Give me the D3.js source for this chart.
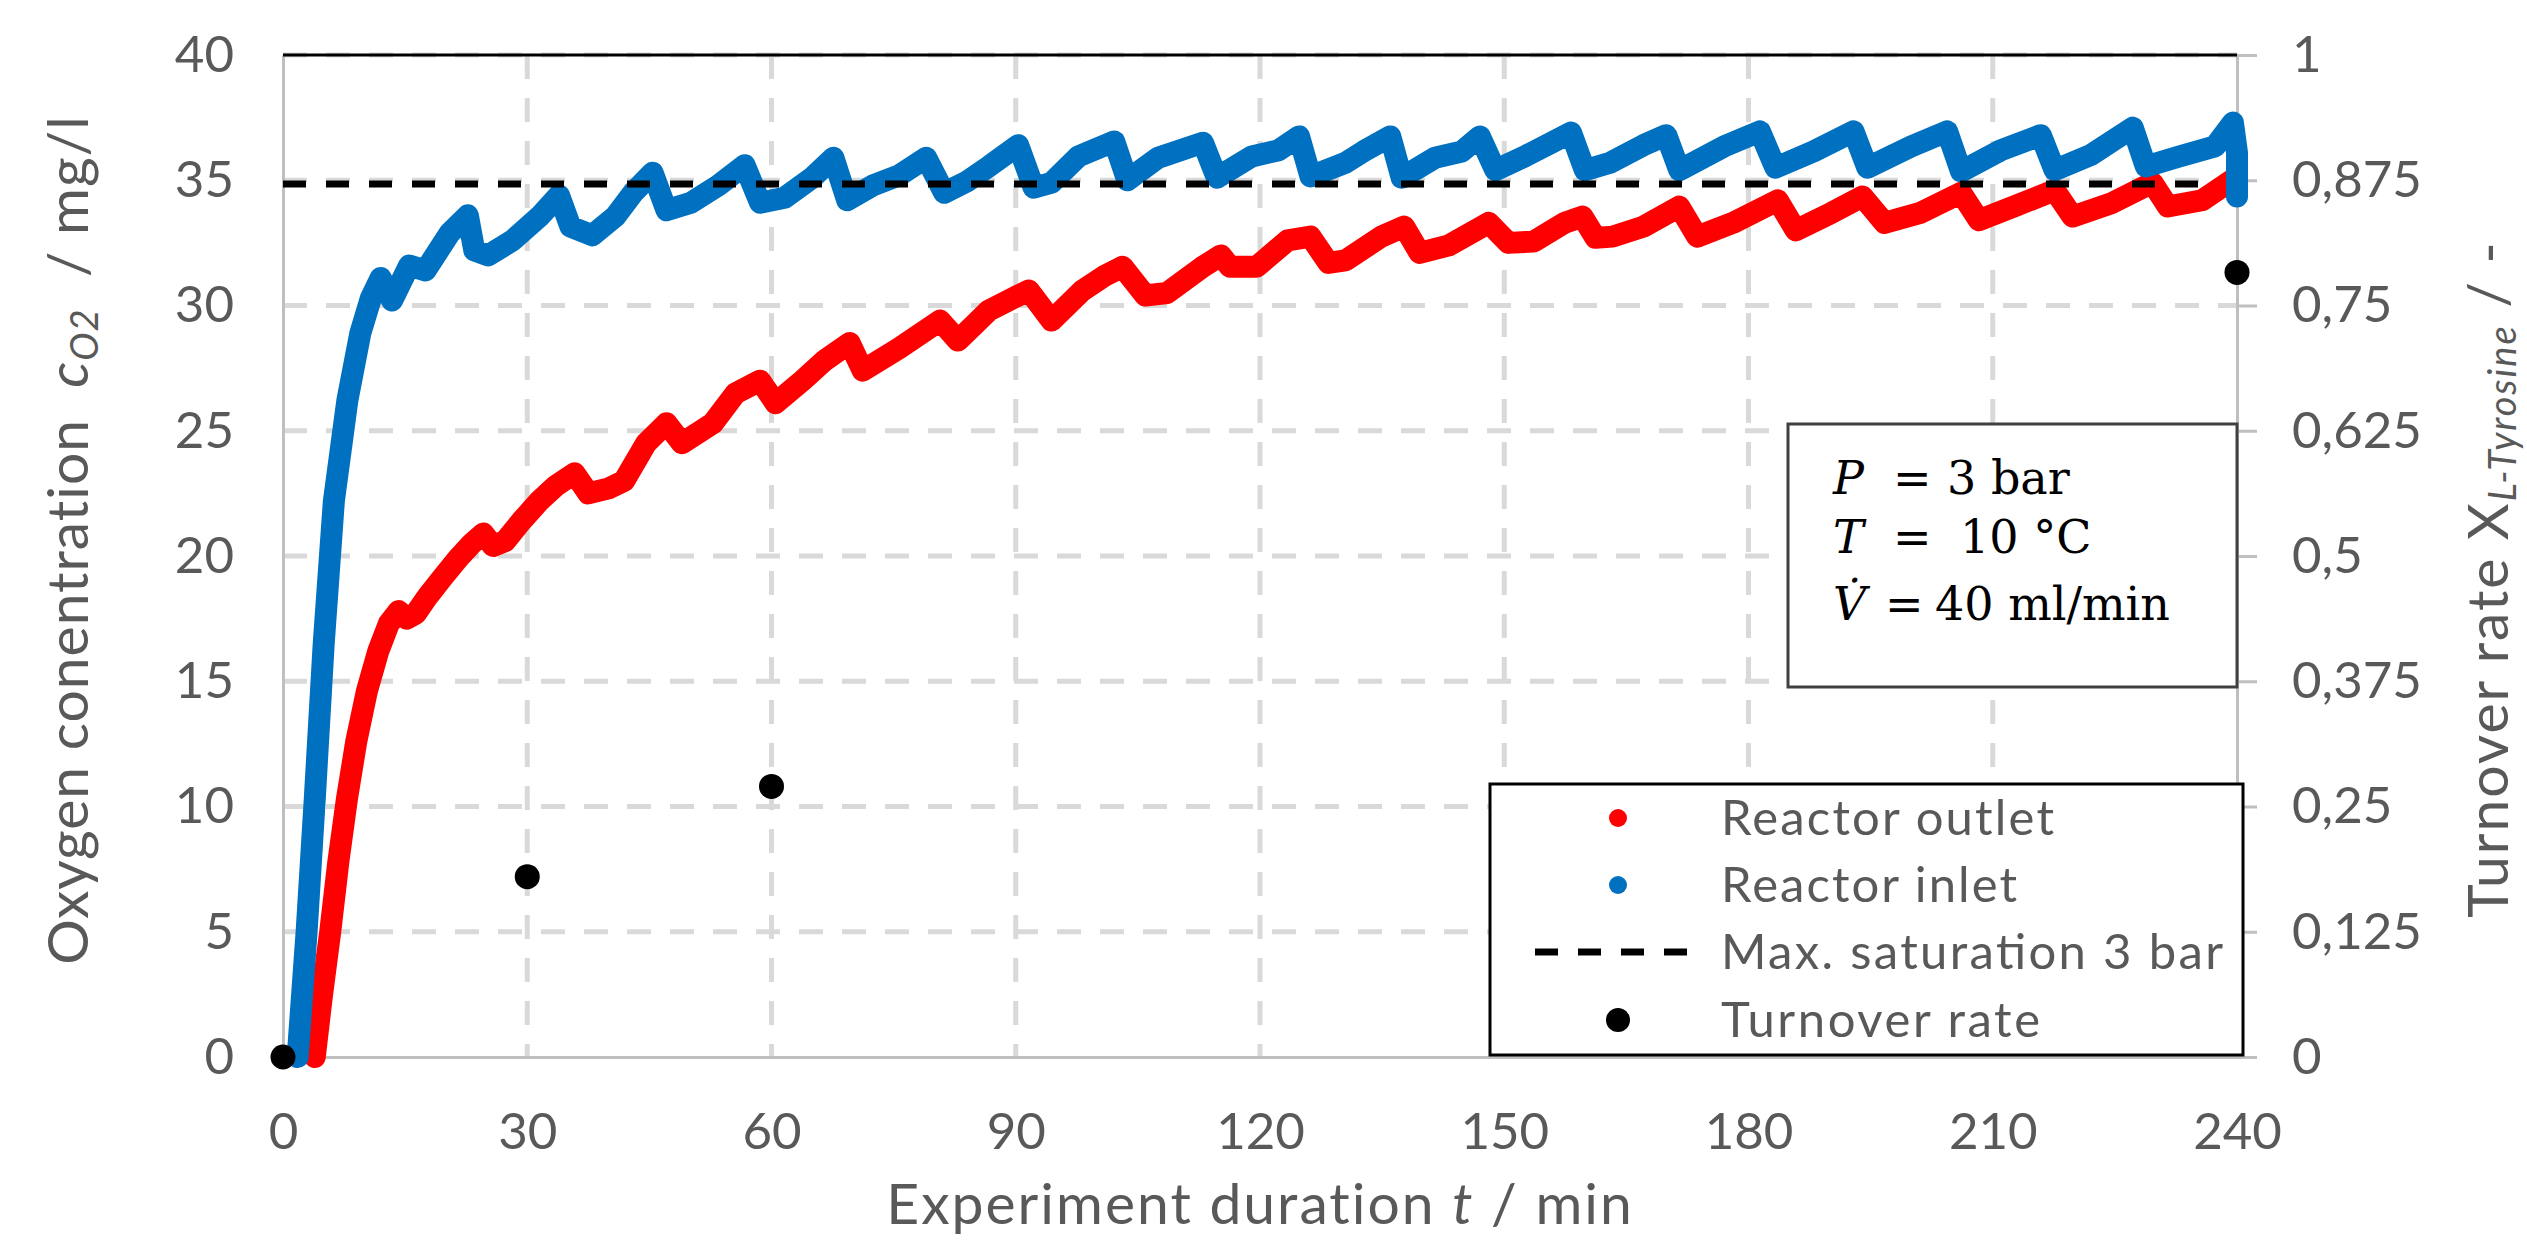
<!DOCTYPE html>
<html>
<head>
<meta charset="utf-8">
<script src="https://cdn.jsdelivr.net/npm/d3@7"></script>
<style>
  body { margin: 0; background: #fff; }
  text { font-family: Lato, "Open Sans", sans-serif; fill: #595959; }
</style>
</head>
<body>
<svg id="chart" width="2527" height="1240"></svg>
<script>
// values (time in min, O2 in mg/l, turnover 0..1)
var inletTime = [1.8, 2.9, 3.9, 5.0, 6.25, 7.9, 9.5, 10.8, 12.0, 13.4, 15.5, 17.5, 20.5, 22.7, 23.5, 25.2, 28.2, 31.5, 33.9, 35.3, 38.0, 40.8, 43.0, 45.4, 47.1, 50.1, 53.5, 56.7, 58.6, 61.6, 65.0, 67.6, 69.3, 72.5, 75.7, 79.0, 81.2, 84.0, 86.7, 90.3, 92.2, 94.4, 97.7, 102.1, 103.7, 107.5, 113.0, 114.7, 119.0, 122.3, 124.8, 126.2, 130.5, 132.7, 136.0, 137.4, 141.5, 144.8, 147.0, 148.9, 152.5, 158.2, 159.9, 163.0, 167.1, 169.9, 171.5, 177.0, 181.4, 183.3, 188.0, 192.9, 194.6, 200.0, 204.4, 206.1, 211.0, 215.9, 217.6, 222.0, 227.2, 228.8, 232.9, 237.3, 239.5, 240, 240];
var inletO2 = [0, 5, 10.3, 16.5, 22.2, 26.2, 28.9, 30.3, 31.1, 30.2, 31.6, 31.4, 32.9, 33.6, 32.2, 32.0, 32.6, 33.55, 34.4, 33.15, 32.8, 33.55, 34.5, 35.3, 33.8, 34.1, 34.8, 35.6, 34.1, 34.3, 35.1, 35.9, 34.2, 34.8, 35.2, 35.9, 34.5, 34.95, 35.55, 36.4, 34.7, 34.9, 35.95, 36.55, 35.0, 35.9, 36.5, 35.1, 35.95, 36.2, 36.75, 35.15, 35.7, 36.15, 36.75, 35.1, 35.9, 36.15, 36.75, 35.4, 35.95, 36.9, 35.4, 35.7, 36.4, 36.8, 35.4, 36.35, 36.95, 35.5, 36.15, 36.95, 35.5, 36.35, 36.95, 35.35, 36.2, 36.8, 35.4, 36.0, 37.1, 35.55, 35.95, 36.35, 37.3, 36.1, 34.35];

var outletTime = [3.9, 4.8, 5.8, 6.8, 7.85, 9.0, 10.3, 11.7, 13.0, 14.2, 15.2, 16.3, 17.8, 19.5, 21.5, 23.2, 24.6, 25.8, 27.3, 29.3, 31.5, 33.5, 35.8, 37.5, 40.0, 41.9, 44.6, 47.1, 49.0, 52.8, 55.6, 58.6, 60.5, 63.8, 66.5, 69.6, 71.2, 75.7, 80.7, 82.9, 86.7, 90.0, 91.6, 94.4, 98.2, 101.0, 103.1, 105.9, 108.6, 113.0, 115.2, 116.3, 119.6, 123.4, 126.2, 128.4, 130.5, 134.9, 137.7, 139.6, 143.2, 148.1, 150.5, 153.6, 157.4, 159.6, 161.2, 163.3, 167.1, 171.5, 173.7, 178.1, 183.6, 185.8, 190.2, 194.0, 196.7, 201.1, 206.1, 208.3, 212.6, 217.6, 219.8, 224.7, 229.6, 231.5, 235.7, 239.8];
var outletO2 = [0, 2.5, 5, 7.8, 10.3, 12.6, 14.6, 16.2, 17.3, 17.8, 17.5, 17.7, 18.4, 19.1, 19.9, 20.5, 20.9, 20.4, 20.6, 21.4, 22.2, 22.8, 23.3, 22.5, 22.7, 23.0, 24.5, 25.3, 24.5, 25.3, 26.5, 27.0, 26.1, 27.0, 27.8, 28.5, 27.4, 28.3, 29.4, 28.6, 29.8, 30.35, 30.6, 29.4, 30.6, 31.2, 31.55, 30.4, 30.5, 31.55, 32.0, 31.55, 31.55, 32.6, 32.75, 31.7, 31.8, 32.75, 33.15, 32.1, 32.4, 33.3, 32.5, 32.55, 33.3, 33.55, 32.7, 32.75, 33.15, 33.95, 32.75, 33.3, 34.2, 33.0, 33.7, 34.35, 33.3, 33.7, 34.5, 33.4, 33.95, 34.6, 33.55, 34.1, 34.9, 33.95, 34.2, 35.1];

var saturationTime = [0, 236];
var saturationO2 = [34.85, 34.85];

var turnoverTime = [0, 30, 60, 240];
var turnoverRate = [0, 0.18, 0.27, 0.783];

var xTicks = [0, 30, 60, 90, 120, 150, 180, 210, 240];
var leftTicks = [0, 5, 10, 15, 20, 25, 30, 35, 40];
var rightTicks = [0, 0.125, 0.25, 0.375, 0.5, 0.625, 0.75, 0.875, 1];

var legendLabels = ["Reactor outlet", "Reactor inlet", "Max. saturation 3 bar", "Turnover rate"];

// layout (window.top is taken, so plot* names)
var plotLeft = 283, plotRight = 2237, plotTop = 55, plotBottom = 1057;
var gray = "#595959", axisGray = "#bfbfbf", gridGray = "#d9d9d9";

var svg = d3.select("#chart");

var x = d3.scaleLinear().domain([0, 240]).range([plotLeft, plotRight]);
var yL = d3.scaleLinear().domain([0, 40]).range([plotBottom, plotTop]);
var yR = d3.scaleLinear().domain([0, 1]).range([plotBottom, plotTop]);

// grid
svg.append("g").selectAll("line")
  .data(leftTicks.slice(1))
  .enter().append("line")
  .attr("x1", plotLeft).attr("x2", plotRight)
  .attr("y1", function(d) { return yL(d); })
  .attr("y2", function(d) { return yL(d); })
  .attr("stroke", gridGray).attr("stroke-width", 5)
  .attr("stroke-dasharray", "24 19");

svg.append("g").selectAll("line")
  .data(xTicks.slice(1, -1))
  .enter().append("line")
  .attr("x1", function(d) { return x(d); })
  .attr("x2", function(d) { return x(d); })
  .attr("y1", plotTop).attr("y2", plotBottom)
  .attr("stroke", gridGray).attr("stroke-width", 5)
  .attr("stroke-dasharray", "24 19");

// axes
function styleAxis(g, size) {
  g.select(".domain").attr("stroke", axisGray).attr("stroke-width", 3);
  g.selectAll(".tick line").attr("stroke", axisGray).attr("stroke-width", 3);
  g.selectAll(".tick text")
    .attr("fill", gray)
    .style("font-family", "Lato, 'Open Sans', sans-serif")
    .style("font-size", size + "px");
}

var comma = function(d) { return String(d).replace(".", ","); };

svg.append("g")
  .attr("transform", "translate(" + plotLeft + ",0)")
  .call(d3.axisLeft(yL).tickValues(leftTicks).tickSize(0).tickPadding(49))
  .call(styleAxis, 51);

svg.append("g")
  .attr("transform", "translate(" + plotRight + ",0)")
  .call(d3.axisRight(yR).tickValues(rightTicks).tickSize(20).tickSizeOuter(0).tickPadding(35).tickFormat(comma))
  .call(styleAxis, 51);

svg.append("g")
  .attr("transform", "translate(0," + plotBottom + ")")
  .call(d3.axisBottom(x).tickValues(xTicks).tickSize(0).tickPadding(56))
  .call(styleAxis, 51);

// black frame line on top
svg.append("line")
  .attr("x1", plotLeft).attr("x2", plotRight)
  .attr("y1", yL(40)).attr("y2", yL(40))
  .attr("stroke", "#000").attr("stroke-width", 3);

// series
var line = d3.line()
  .x(function(d) { return x(d[0]); })
  .y(function(d) { return yL(d[1]); });

svg.append("path")
  .datum(d3.zip(outletTime, outletO2))
  .attr("d", line)
  .attr("fill", "none").attr("stroke", "#ff0000")
  .attr("stroke-width", 22).attr("stroke-linejoin", "round").attr("stroke-linecap", "round");

svg.append("path")
  .datum(d3.zip(inletTime, inletO2))
  .attr("d", line)
  .attr("fill", "none").attr("stroke", "#0070c0")
  .attr("stroke-width", 22).attr("stroke-linejoin", "round").attr("stroke-linecap", "round");

svg.append("path")
  .datum(d3.zip(saturationTime, saturationO2))
  .attr("d", line)
  .attr("fill", "none").attr("stroke", "#000")
  .attr("stroke-width", 7).attr("stroke-dasharray", "23 20");

svg.append("g").selectAll("circle")
  .data(d3.zip(turnoverTime, turnoverRate))
  .enter().append("circle")
  .attr("cx", function(d) { return x(d[0]); })
  .attr("cy", function(d) { return yR(d[1]); })
  .attr("r", 12.5)
  .attr("fill", "#000");

// axis titles
svg.append("text")
  .attr("transform", "translate(88,540) rotate(-90)")
  .attr("text-anchor", "middle")
  .style("font-size", "57px").style("letter-spacing", "1px").style("white-space", "pre")
  .html('Oxygen conentration  <tspan font-style="italic">c</tspan><tspan font-style="italic" font-size="38px" dy="10">O2</tspan><tspan dy="-10">  / mg/l</tspan>');

svg.append("text")
  .attr("transform", "translate(2508,579) rotate(-90)")
  .attr("text-anchor", "middle")
  .style("font-size", "57px").style("letter-spacing", "2px").style("white-space", "pre")
  .html('Turnover rate X<tspan font-style="italic" font-size="38px" dy="8">L-Tyrosine</tspan><tspan dy="-8"> / -</tspan>');

svg.append("text")
  .attr("x", (plotLeft + plotRight) / 2).attr("y", 1224)
  .attr("text-anchor", "middle")
  .style("font-size", "57px").style("letter-spacing", "2px").style("white-space", "pre")
  .html('Experiment duration <tspan font-style="italic">t</tspan> / min');

// parameter box
var box = svg.append("g");
box.append("rect")
  .attr("x", 1788).attr("y", 424).attr("width", 449).attr("height", 263)
  .attr("fill", "#fff").attr("stroke", "#404040").attr("stroke-width", 3);

var params = [
  { name: "P", eqX: 1893, val: "3 bar", valX: 1947, y: 494 },
  { name: "T", eqX: 1893, val: "10 \u00B0C", valX: 1960, y: 553 },
  { name: "V\u0307", eqX: 1885, val: "40 ml/min", valX: 1935, y: 620 }
];
params.forEach(function(p) {
  var t = box.append("text")
    .attr("y", p.y)
    .style("font-family", "'DejaVu Serif', 'Liberation Serif', serif")
    .style("font-size", "46px").style("fill", "#000");
  t.append("tspan").attr("x", 1833).attr("font-style", "italic").text(p.name);
  t.append("tspan").attr("x", p.eqX).text("=");
  t.append("tspan").attr("x", p.valX).text(p.val);
});

// legend
var legend = svg.append("g");
legend.append("rect")
  .attr("x", 1490).attr("y", 784).attr("width", 753).attr("height", 271)
  .attr("fill", "#fff").attr("stroke", "#000").attr("stroke-width", 3);

var rowY = [835, 902, 969, 1037];
var textLen = [333, 296, 502, 319];

legendLabels.forEach(function(label, i) {
  var g = legend.append("g");
  if (i === 2) {
    g.append("line")
      .attr("x1", 1535).attr("x2", 1687)
      .attr("y1", rowY[i] - 17).attr("y2", rowY[i] - 17)
      .attr("stroke", "#000").attr("stroke-width", 7).attr("stroke-dasharray", "23 20");
  } else {
    g.append("circle")
      .attr("cx", 1618).attr("cy", rowY[i] - 17)
      .attr("r", i === 3 ? 12 : 9)
      .attr("fill", ["#ff0000", "#0070c0", null, "#000"][i]);
  }
  g.append("text")
    .attr("x", 1721).attr("y", rowY[i])
    .attr("textLength", textLen[i]).attr("lengthAdjust", "spacing")
    .style("font-size", "49px")
    .text(label);
});
</script>
</body>
</html>
